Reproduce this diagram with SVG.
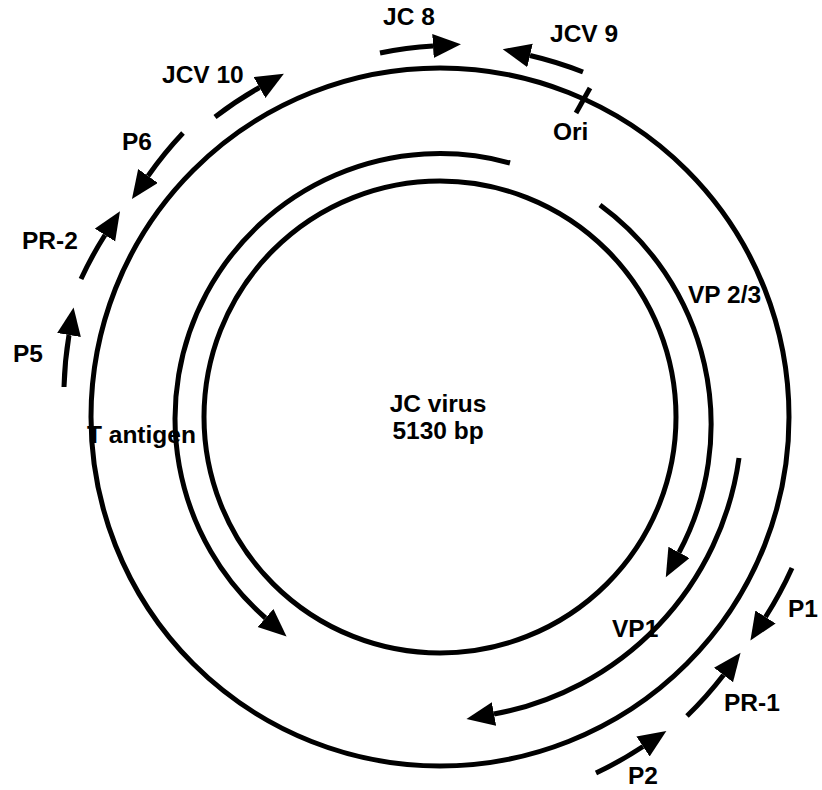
<svg xmlns="http://www.w3.org/2000/svg" width="822" height="790" viewBox="0 0 822 790">
  <style>
    .ring { fill: none; stroke: #000; stroke-width: 5; }
    .arc { fill: none; stroke: #000; stroke-width: 5; marker-end: url(#head); }
    .plain { fill: none; stroke: #000; stroke-width: 5; }
    .lbl { font-family: "Liberation Sans", Arial, Helvetica, sans-serif; font-weight: bold; font-size: 24.5px; fill: #000; }
  </style>
  <defs>
    <marker id="head" markerUnits="userSpaceOnUse" markerWidth="30" markerHeight="26" refX="0" refY="12" orient="auto" viewBox="0 0 30 26">
      <path d="M0,0 L28,12 L0,24 Z" fill="#000"/>
    </marker>
  </defs>
  <rect x="0" y="0" width="822" height="790" fill="#fff"/>

  <g id="genome">
    <circle class="ring" cx="440" cy="417" r="349"/>
    <circle class="ring" cx="440" cy="417" r="236"/>
    <line class="plain" x1="590" y1="88" x2="576" y2="113" stroke-width="4"/>
    <text class="lbl" x="553" y="140">Ori</text>
    <text class="lbl" x="438" y="412" text-anchor="middle">JC virus</text>
    <text class="lbl" x="438" y="439" text-anchor="middle">5130 bp</text>
  </g>

  <g id="connectors">
    <path id="arc-tantigen" class="arc" d="M510,163 A265,265 0 0 0 265.5,618"/>
    <path id="arc-vp23" class="arc" d="M600,205 A272,272 0 0 1 679,552.5"/>
    <path id="arc-vp1" class="arc" d="M739,458 A302,302 0 0 1 494,714"/>
    <path id="arc-p5" class="arc" d="M64,387 A380,380 0 0 1 69,335"/>
    <path id="arc-pr2" class="arc" d="M81,279 A380,380 0 0 1 105,235"/>
    <path id="arc-p6" class="arc" d="M183,133 A380,380 0 0 0 148,176"/>
    <path id="arc-jcv10" class="arc" d="M215,117 A380,380 0 0 1 259.5,87.5"/>
    <path id="arc-jc8" class="arc" d="M380,53 A380,380 0 0 1 433,46"/>
    <path id="arc-jcv9" class="arc" d="M583,72 A380,380 0 0 0 530,55.5"/>
    <path id="arc-p1" class="arc" d="M792,568 A380,380 0 0 1 765.5,617"/>
    <path id="arc-pr1" class="arc" d="M687,716 A380,380 0 0 0 723.5,675"/>
    <path id="arc-p2" class="arc" d="M596,773 A380,380 0 0 0 643,746.5"/>
  </g>

  <g id="t-antigen"><text class="lbl" x="87" y="443">T antigen</text></g>
  <g id="vp23"><text class="lbl" x="688" y="303">VP 2/3</text></g>
  <g id="vp1"><text class="lbl" x="612" y="637">VP1</text></g>
  <g id="jc8"><text class="lbl" x="383" y="25">JC 8</text></g>
  <g id="jcv9"><text class="lbl" x="550" y="42">JCV 9</text></g>
  <g id="jcv10"><text class="lbl" x="162" y="83">JCV 10</text></g>
  <g id="p6"><text class="lbl" x="122" y="150">P6</text></g>
  <g id="pr2"><text class="lbl" x="22" y="249">PR-2</text></g>
  <g id="p5"><text class="lbl" x="13" y="362">P5</text></g>
  <g id="p1"><text class="lbl" x="788" y="617">P1</text></g>
  <g id="pr1"><text class="lbl" x="724" y="711">PR-1</text></g>
  <g id="p2"><text class="lbl" x="628" y="784">P2</text></g>
</svg>
